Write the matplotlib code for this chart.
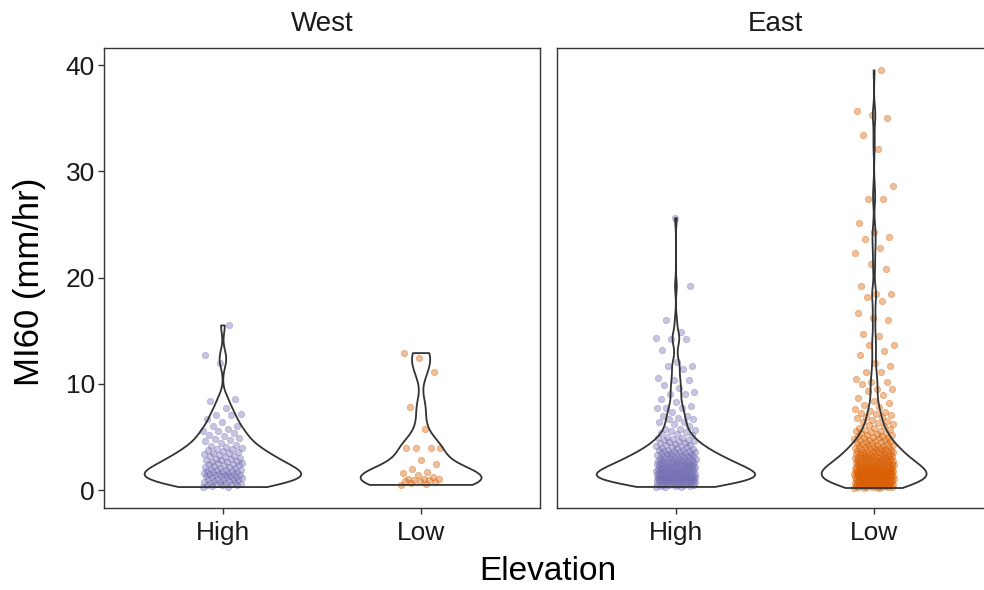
import numpy as np
import matplotlib
matplotlib.use("Agg")
import matplotlib.pyplot as plt

plt.rcParams["font.family"] = ["Liberation Sans", "DejaVu Sans"]

# facets and groups
regions = ["West", "East"]
elevations = ["High", "Low"]
point_colors = ["#7570B3", "#D95F02"]
yticks = [0, 10, 20, 30, 40]

# MI60 values (mm/hr), per facet / elevation
west_high = [
    0.3, 0.35, 0.4, 0.45, 0.5, 0.5, 0.55, 0.6, 0.6, 0.65, 0.7, 0.75, 0.8, 0.8, 0.85, 0.9, 0.95,
    1.0, 1.05, 1.1, 1.1, 1.15, 1.2, 1.2, 1.25, 1.3, 1.3, 1.35, 1.4, 1.4, 1.45, 1.5, 1.5, 1.55,
    1.6, 1.65, 1.7, 1.7, 1.75, 1.8, 1.85, 1.9, 1.9, 1.95, 2.0,
    2.05, 2.1, 2.15, 2.2, 2.3, 2.35, 2.4, 2.45, 2.5, 2.55, 2.6, 2.65, 2.7, 2.75, 2.8, 2.85, 2.9, 2.95, 3.0,
    3.1, 3.2, 3.25, 3.3, 3.4, 3.5, 3.55, 3.6, 3.7, 3.8, 3.85, 3.9, 4.0,
    4.1, 4.2, 4.3, 4.45, 4.6, 4.7, 4.8, 4.9,
    5.1, 5.2, 5.4, 5.6, 5.6, 5.8, 6.0, 6.0, 6.4, 6.7, 7.1, 7.1, 7.2, 7.7, 8.4, 8.6,
    12.0, 12.7, 15.5,
]
west_low = [
    0.5, 0.6, 0.65, 0.8, 0.85, 0.9, 1.0, 1.0, 1.05, 1.1, 1.1, 1.2, 1.4, 1.6, 1.7,
    2.0, 2.5, 2.8, 4.0, 4.0, 4.0, 4.0, 5.8, 7.8, 11.1, 12.4, 12.9,
]
east_high = [
    0.31, 0.34, 0.35, 0.38, 0.41, 0.42, 0.45, 0.47, 0.48, 0.52, 0.53, 0.55, 0.58, 0.6, 0.61,
    0.63, 0.66, 0.67, 0.7, 0.71, 0.73, 0.76, 0.77, 0.79, 0.81, 0.82, 0.84, 0.86, 0.88, 0.89,
    0.91, 0.92, 0.94, 0.95, 0.97, 0.98,
    1.0, 1.01, 1.03, 1.04, 1.06, 1.07, 1.08, 1.1, 1.11, 1.12, 1.14, 1.15, 1.16, 1.18, 1.19,
    1.2, 1.21, 1.23, 1.24, 1.25, 1.27, 1.28, 1.29, 1.31, 1.32, 1.33, 1.35, 1.36, 1.38, 1.39,
    1.41, 1.42, 1.44, 1.45, 1.47, 1.48, 1.5, 1.51, 1.53, 1.54, 1.56, 1.58, 1.59, 1.61, 1.62,
    1.64, 1.66, 1.67, 1.69, 1.71, 1.72, 1.74, 1.76, 1.78, 1.79, 1.81, 1.83, 1.85, 1.87, 1.89,
    1.91, 1.93, 1.95, 1.97, 1.99,
    2.01, 2.02, 2.03, 2.05, 2.08, 2.1, 2.12, 2.14, 2.15, 2.17, 2.19, 2.21, 2.24, 2.26, 2.28,
    2.29, 2.31, 2.33, 2.36, 2.38, 2.41, 2.43, 2.44, 2.46, 2.48, 2.51, 2.54, 2.56, 2.58, 2.59,
    2.62, 2.64, 2.67, 2.7, 2.71, 2.73, 2.76, 2.79, 2.82, 2.85, 2.86, 2.88, 2.91, 2.94, 2.97,
    3.01, 3.04, 3.06, 3.08, 3.11, 3.15, 3.18, 3.2, 3.22, 3.26, 3.3, 3.34, 3.36, 3.38, 3.42,
    3.46, 3.5, 3.52, 3.55, 3.59, 3.64, 3.66, 3.68, 3.73, 3.78, 3.81, 3.83, 3.88, 3.94, 3.99,
    4.05, 4.11, 4.14, 4.17, 4.23, 4.3, 4.37, 4.4, 4.44, 4.52, 4.6, 4.64, 4.68, 4.77, 4.86,
    4.9, 4.95, 5.05, 5.15, 5.26, 5.38, 5.5,
    5.6, 5.7, 5.8, 5.8, 6.0, 6.2, 6.4, 6.4, 6.7, 6.7, 6.8, 7.0, 7.0, 7.4, 7.7, 7.7, 7.7, 7.9,
    8.3, 8.6, 9.1, 9.1, 9.2, 9.6, 9.9, 10.4, 10.4, 10.6, 11.4, 11.7, 11.7, 12.1, 13.2, 14.2,
    14.2, 14.3, 14.9, 16.0, 19.2, 25.6,
]
east_low = [
    0.21, 0.23, 0.24, 0.26, 0.27, 0.29, 0.3, 0.32, 0.33, 0.35, 0.36, 0.38, 0.39, 0.41, 0.42,
    0.44, 0.45, 0.47, 0.48, 0.5, 0.51, 0.53, 0.54, 0.56, 0.57, 0.59, 0.6, 0.62, 0.63, 0.65,
    0.66, 0.68, 0.69, 0.71, 0.72, 0.74, 0.75, 0.77, 0.78, 0.8, 0.81, 0.83, 0.84, 0.86, 0.87,
    0.89, 0.9, 0.92, 0.94, 0.96, 0.98,
    1.0, 1.01, 1.03, 1.04, 1.05, 1.07, 1.08, 1.09, 1.11, 1.12, 1.13, 1.15, 1.16, 1.17, 1.19,
    1.2, 1.21, 1.23, 1.24, 1.25, 1.27, 1.28, 1.29, 1.31, 1.32, 1.33, 1.35, 1.36, 1.37, 1.39,
    1.4, 1.41, 1.43, 1.44, 1.45, 1.47, 1.48, 1.49, 1.51, 1.52, 1.53, 1.55, 1.56, 1.57, 1.59,
    1.6, 1.61, 1.63, 1.64, 1.65, 1.67, 1.68, 1.69, 1.71, 1.72, 1.73, 1.75, 1.76, 1.77, 1.79,
    1.8, 1.81, 1.83, 1.84, 1.85, 1.87, 1.88, 1.9, 1.91, 1.93, 1.94, 1.96, 1.97, 1.99,
    2.0, 2.02, 2.04, 2.05, 2.07, 2.09, 2.1, 2.12, 2.14, 2.15, 2.17, 2.19, 2.21, 2.22, 2.24,
    2.26, 2.28, 2.3, 2.31, 2.33, 2.35, 2.37, 2.39, 2.41, 2.43, 2.45, 2.47, 2.49, 2.51, 2.53,
    2.55, 2.57, 2.59, 2.61, 2.63, 2.65, 2.67, 2.69, 2.71, 2.73, 2.75, 2.78, 2.8, 2.82, 2.84,
    2.87, 2.89, 2.91, 2.94, 2.96, 2.99,
    3.01, 3.04, 3.06, 3.08, 3.09, 3.12, 3.14, 3.17, 3.2, 3.22, 3.23, 3.26, 3.29, 3.32, 3.35,
    3.38, 3.4, 3.41, 3.44, 3.47, 3.5, 3.53, 3.55, 3.57, 3.6, 3.63, 3.67, 3.7, 3.72, 3.74,
    3.77, 3.81, 3.85, 3.88, 3.89, 3.93, 3.97,
    4.01, 4.05, 4.08, 4.1, 4.14, 4.19, 4.24, 4.27, 4.29, 4.34, 4.39, 4.42, 4.45, 4.5, 4.56,
    4.6, 4.62, 4.68, 4.74, 4.77, 4.8, 4.87, 4.9, 4.94,
    5.01, 5.08, 5.12, 5.16, 5.24, 5.32, 5.36, 5.41, 5.5, 5.55, 5.6, 5.7, 5.8, 5.85, 5.9,
    6.05, 6.1, 6.2, 6.3, 6.45, 6.5, 6.6, 6.75, 6.85, 6.9, 7.05, 7.2, 7.3, 7.35,
    7.5, 7.6, 7.8, 8.0, 8.2, 8.4, 8.7, 9.0, 9.3, 9.5, 9.5, 10.0, 10.2, 10.2, 10.5, 11.1, 11.1,
    11.7, 12.0, 12.7, 13.1, 13.7, 13.7, 14.5, 14.7, 16.0, 16.2, 16.7, 17.8, 18.2, 18.5, 18.5,
    19.2, 20.8, 21.3, 22.3, 22.8, 23.6, 23.8, 24.3, 25.1, 27.4, 27.4, 28.6, 32.1, 33.4, 35.0,
    35.3, 35.7, 39.5,
]

panel_data = [[west_high, west_low], [east_high, east_low]]


def nrd0(kde):
    """R's default bandwidth, given as a factor of the sample sd"""
    d = np.ravel(kde.dataset)
    q75, q25 = np.percentile(d, [75, 25])
    sd = d.std(ddof=1)
    lo = min(sd, (q75 - q25) / 1.34)
    return 0.9 * lo * len(d) ** -0.2 / sd


def jitter(n, half_width=0.1):
    """even, repeatable horizontal spread for the points"""
    return np.array([((i * 0.618034) % 1 - 0.5) * 2 * half_width for i in range(n)])


def main():
    fig = plt.figure(figsize=(9.84, 5.9), dpi=100)
    W, H = 984, 590
    panel_left = [104, 557]
    panel_w, panel_top, panel_bottom = 436, 48, 508
    violin_widths = [[0.79, 0.61], [0.80, 0.53]]

    for k, region in enumerate(regions):
        ax = fig.add_axes([panel_left[k] / W, 1 - panel_bottom / H,
                           panel_w / W, (panel_bottom - panel_top) / H])
        positions = [1, 2]
        for j, vals in enumerate(panel_data[k]):
            vals = np.array(vals)
            ax.scatter(positions[j] + jitter(len(vals)), vals, s=21,
                       color=point_colors[j], alpha=0.4, linewidths=0.6,
                       edgecolors=point_colors[j], zorder=2)
        parts = ax.violinplot(panel_data[k], positions=positions,
                              widths=violin_widths[k], showextrema=False,
                              bw_method=nrd0, points=200)
        for body in parts["bodies"]:
            body.set_facecolor("none")
            body.set_edgecolor("#333333")
            body.set_linewidth(1.3)
            body.set_alpha(1)
            body.set_zorder(3)

        ax.set_xlim(0.4, 2.6)
        ax.set_ylim(-1.67, 41.6)
        ax.set_xticks(positions)
        ax.set_xticklabels(elevations)
        ax.set_yticks(yticks)
        for sp in ax.spines.values():
            sp.set_color("#333333")
            sp.set_linewidth(1.0)
        ax.tick_params(axis="both", length=4.5, width=1, color="#333333",
                       labelsize=19, labelcolor="#1a1a1a", pad=2)
        ax.tick_params(axis="x", pad=5)
        if k > 0:
            ax.tick_params(axis="y", left=False, labelleft=False)
        ax.text(0.5, 1 + 17 / 460, region, transform=ax.transAxes,
                ha="center", va="baseline", fontsize=20, color="#1a1a1a")

    fig.text(30 / W, 1 - 282 / H, "MI60 (mm/hr)", rotation=90,
             ha="center", va="center", fontsize=25, color="black")
    fig.text(548 / W, 1 - 572 / H, "Elevation", ha="center", va="center",
             fontsize=24, color="black")

    fig.savefig("out.png", dpi=100)


if __name__ == "__main__":
    main()
